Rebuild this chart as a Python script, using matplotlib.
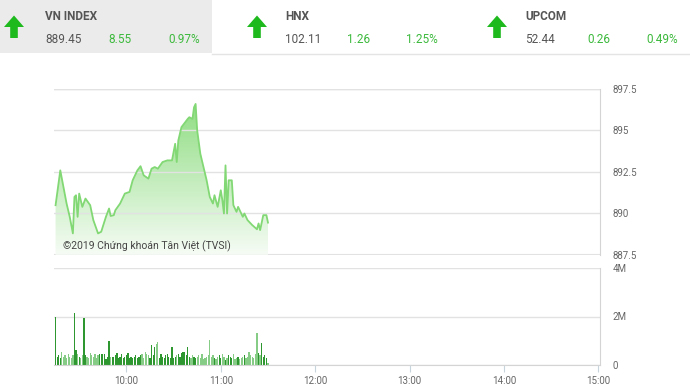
import numpy as np
import matplotlib
matplotlib.use("Agg")
import matplotlib.pyplot as plt
from matplotlib.patches import Polygon, Rectangle

plt.rcParams['font.family'] = ['Roboto', 'DejaVu Sans']

# header boxes: name, value, change, pct
idx_names = ['VN INDEX', 'HNX', 'UPCOM']
idx_values = ['889.45', '102.11', '52.44']
idx_changes = ['8.55', '1.26', '0.26']
idx_pcts = ['0.97%', '1.25%', '0.49%']

# intraday VN-Index, minutes after 09:00
price_min = [15, 18, 20, 22, 24, 26, 27, 28, 29, 30, 32, 34, 37, 39, 42, 44, 47, 49, 50, 52,
             53, 56, 59, 62, 64, 67, 69, 71, 74, 76, 78, 80, 83, 86, 89, 91, 92, 93, 95, 99,
             100, 102, 103, 104, 105, 107, 109, 111, 113, 115, 116, 118, 120, 121, 122, 123, 124, 125, 127, 128,
             130, 131, 134, 135, 137, 140, 143, 144, 145, 147, 149, 150]
price = [890.5, 892.6, 891.6, 890.6, 889.8, 888.8, 891.0, 891.1, 889.8, 891.2,
         890.4, 890.9, 890.5, 889.6, 888.8, 888.9, 889.8, 890.3, 889.85, 889.9,
         890.2, 890.6, 891.2, 891.3, 892.0, 892.6, 892.85, 892.3, 892.1, 892.7,
         892.8, 892.7, 893.1, 893.2, 893.2, 894.2, 893.1, 894.4, 895.2, 895.7,
         895.8, 895.7, 896.4, 896.6, 895.0, 893.6, 892.8, 892.0, 891.0, 890.6,
         891.1, 890.4, 891.4, 890.8, 890.0, 892.9, 890.0, 892.0, 892.0, 890.5,
         890.1, 890.4, 889.8, 890.0, 889.6, 889.3, 889.05, 889.4, 889.0, 889.9,
         889.9, 889.45]

# matched volume per minute (millions), 09:15 .. 11:30
vol_start = 15
volume = [2.0,
          0.35, 0.4, 0.3, 0.55, 0.35, 0.4, 0.3, 0.45, 0.35, 0.3, 0.4,
          2.13,
          0.6, 0.45, 0.35, 0.3, 0.4,
          1.93,
          0.4, 0.35, 0.3, 0.5, 0.4, 0.35, 0.45, 0.3, 0.4, 0.45, 0.45, 0.45, 0.45, 0.25, 0.35,
          1.0,
          0.35, 0.35, 0.35, 0.4, 0.5, 0.3, 0.35, 0.45, 0.3, 0.35,
          0.4, 0.5, 0.3, 0.35, 0.3, 0.35, 0.4, 0.3, 0.35, 0.4,
          0.45, 0.3, 0.55, 0.45, 0.4, 0.3,
          0.82, 0.4, 0.75, 0.85, 0.96,
          0.3, 0.45, 0.35, 0.3, 0.4, 0.45, 0.35, 0.3,
          0.75,
          0.3, 0.35, 0.4, 0.45, 0.35, 0.5, 0.55, 0.55, 0.4,
          0.75,
          0.35, 0.3, 0.4, 0.35, 0.3, 0.35, 0.4, 0.3, 0.45, 0.25, 0.3, 0.35, 0.4,
          1.03,
          0.35, 0.4, 0.3, 0.25, 0.35, 0.4, 0.3, 0.45, 0.35, 0.2,
          0.3, 0.4, 0.35, 0.3, 0.45, 0.25, 0.3, 0.35, 0.25, 0.3,
          0.35, 0.4, 0.3, 0.35,
          0.55, 0.4, 0.35, 0.3, 0.45,
          1.3, 0.5, 0.4, 0.92,
          0.35, 0.4, 0.3, 0.1]

price_ticks = [887.5, 890, 892.5, 895, 897.5]
time_ticks = [60, 120, 180, 240, 300, 360]
time_labels = ['10:00', '11:00', '12:00', '13:00', '14:00', '15:00']

W, H = 690, 389
fig = plt.figure(figsize=(W / 100, H / 100), dpi=100)

# ---- header strip (pixel coords) ----
hdr = fig.add_axes([0, 0, 1, 1], zorder=0)
hdr.set_xlim(0, W)
hdr.set_ylim(H, 0)
hdr.axis('off')
hdr.add_patch(Rectangle((0, 0), 212, 53, color='#ebebeb', lw=0))
hdr.plot([212, W], [54, 54], color='#e4e4e4', lw=1)

grey_txt = '#555555'
green_txt = '#3cb93c'
arrow_x = [14, 257, 497]
text_x = [45, 285, 525]
chg_x = [108, 347, 587]
pct_right = [200, 438, 678]
for i in range(3):
    ax0 = arrow_x[i]
    hdr.add_patch(Polygon([(ax0 - 10, 27), (ax0, 15.5), (ax0 + 10, 27), (ax0 + 3.8, 27),
                           (ax0 + 3.8, 38), (ax0 - 3.8, 38), (ax0 - 3.8, 27)],
                          closed=True, color='#1db91d', lw=0))
    hdr.text(text_x[i], 16, idx_names[i], fontsize=8.5, fontweight='bold', color=grey_txt, va='center')
    hdr.text(text_x[i], 39, idx_values[i], fontsize=8.5, color=grey_txt, va='center')
    hdr.text(chg_x[i], 39, idx_changes[i], fontsize=8.5, color=green_txt, va='center')
    hdr.text(pct_right[i], 39, idx_pcts[i], fontsize=8.5, color=green_txt, va='center', ha='right')

grid_c = '#e2e2e2'
lab_c = '#666666'

# ---- price panel ----
ax = fig.add_axes([54 / W, 1 - 255 / H, 546 / W, 166 / H], zorder=1)
ax.patch.set_alpha(0)
ax.set_xlim(14, 361)
ax.set_ylim(887.5, 897.5)

grad = np.linspace(1, 0, 256).reshape(-1, 1)
cmap = matplotlib.colors.LinearSegmentedColormap.from_list('g', ['#f6fcf5', '#86da78'])
im = ax.imshow(grad, extent=[14, 361, 887.5, 897.5], aspect='auto', cmap=cmap,
               origin='upper', vmin=0, vmax=1, zorder=1)
poly_x = [price_min[0]] + price_min + [price_min[-1]]
poly_y = [887.5] + price + [887.5]
clip = Polygon(np.column_stack([poly_x, poly_y]), closed=True, transform=ax.transData, visible=False)
ax.add_patch(clip)
im.set_clip_path(clip)
ax.plot(price_min, price, color='#82d874', lw=1.3, zorder=3)

ax.set_yticks(price_ticks)
ax.set_yticklabels(['887.5', '890', '892.5', '895', '897.5'])
ax.yaxis.tick_right()
ax.tick_params(axis='y', length=0, pad=9, labelsize=7, labelcolor=lab_c)
ax.set_xticks([])
ax.grid(axis='y', color=grid_c, lw=1, zorder=0)
for s in ['left', 'top', 'bottom']:
    ax.spines[s].set_visible(False)
ax.spines['right'].set_color('#d4d4d4')
ax.axhline(887.5, color=grid_c, lw=1.5, zorder=0)
ax.axhline(897.5, color=grid_c, lw=1, zorder=0)

# copyright, placed in pixel coords
hdr.text(63, 246, '©2019 Chứng khoán Tân Việt (TVSI)', fontsize=7.5,
         color='#444444', va='center', zorder=5)
hdr.set_zorder(2)
hdr.patch.set_alpha(0)

# ---- volume panel ----
vx = fig.add_axes([54 / W, 1 - 365 / H, 546 / W, 97 / H], zorder=1)
vx.patch.set_alpha(0)
vol_min = np.arange(vol_start, vol_start + len(volume))
p_at = np.interp(vol_min, price_min, price)
up = np.r_[True, np.diff(p_at) >= 0]
cols = ['#2f972f' if u else '#86cc86' for u in up]
vx.bar(vol_min, np.array(volume) * 1e6, width=0.8, color=cols, lw=0, zorder=2)
vx.set_xlim(14, 361)
vx.set_ylim(0, 4e6)
vx.set_yticks([0, 2e6, 4e6])
vx.set_yticklabels(['0', '2M', '4M'])
vx.yaxis.tick_right()
vx.tick_params(axis='y', length=0, pad=9, labelsize=7, labelcolor=lab_c)
vx.set_xticks(time_ticks)
vx.set_xticklabels(time_labels)
vx.tick_params(axis='x', length=5, color='#c8d4dc', labelsize=7, labelcolor=lab_c, pad=3)
vx.grid(axis='y', color=grid_c, lw=1, zorder=0)
for s in ['left', 'top']:
    vx.spines[s].set_visible(False)
vx.spines['right'].set_color('#d4d4d4')
vx.spines['bottom'].set_color('#d4d4d4')

fig.savefig('out.png', dpi=100)
